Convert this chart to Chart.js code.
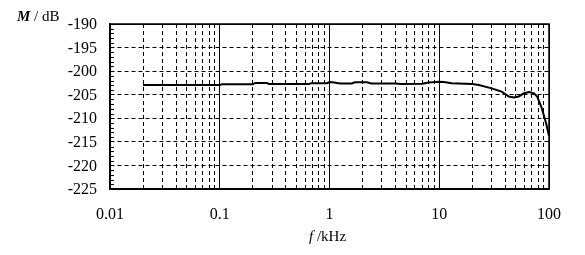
<!DOCTYPE html>
<html>
<head>
<meta charset="utf-8">
<script src="https://cdn.jsdelivr.net/npm/chart.js@4/dist/chart.umd.min.js"></script>
<style>
  html, body { margin: 0; padding: 0; background: #fff; }
  #wrap { width: 585px; height: 255px; }
</style>
</head>
<body>
<div id="wrap"><canvas id="chart"></canvas></div>
<script>
// frequency in kHz, magnitude in dB
const freq = [0.02, 0.1, 0.105, 0.2, 0.21, 0.27, 0.28, 0.65, 0.68, 0.95, 1.0, 1.1, 1.25, 1.6, 1.7, 2.2, 2.4, 4.0, 4.5, 7, 8, 10,
    11, 13, 20, 23, 30, 37, 43, 48, 53, 59, 66, 73, 78, 85, 94, 100];
const mag = [-202.95, -202.95, -202.8, -202.8, -202.5, -202.5, -202.75, -202.75, -202.55, -202.55, -202.3, -202.4, -202.6, -202.6,
    -202.35, -202.35, -202.6, -202.6, -202.75, -202.65, -202.4, -202.25,
    -202.3, -202.55, -202.75, -202.95, -203.65, -204.35, -205.4, -205.6, -205.4, -204.7, -204.45, -204.7, -205.4, -207.5, -211.0, -213.7];

const xDecades = [0.01, 0.1, 1, 10, 100];
const xTickLabels = ["0.01", "0.1", "1", "10", "100"];
const yTicks = [-190, -195, -200, -205, -210, -215, -220, -225];

const FONT = "'Liberation Serif', 'Times New Roman', serif";

// extra bits: inner minor ticks on the y axis, the frame and the axis titles
const extras = {
    id: "extras",
    afterDraw(chart) {
        const c = chart.ctx;
        const a = chart.chartArea;
        const y = chart.scales.y;
        c.save();
        c.strokeStyle = "#000";
        c.lineWidth = 1;
        c.beginPath();
        for (let v = -225; v <= -190; v++) {
            if (v % 5 === 0) continue;
            const py = Math.round(y.getPixelForValue(v)) + 0.5;
            c.moveTo(a.left, py);
            c.lineTo(a.left + 4, py);
        }
        c.stroke();
        c.lineWidth = 1.5;
        c.strokeRect(a.left, a.top, a.right - a.left, a.bottom - a.top);

        c.fillStyle = "#000";
        c.textBaseline = "middle";
        c.textAlign = "left";
        c.font = "italic bold 15px " + FONT;
        c.fillText("M", 17, 17);
        let w = c.measureText("M").width;
        c.font = "15px " + FONT;
        c.fillText(" / dB", 17 + w, 17);

        const cx = (a.left + a.right) / 2 - 2;
        c.font = "italic 15px " + FONT;
        const fw = c.measureText("f").width;
        c.font = "15px " + FONT;
        const rest = " /kHz";
        const rw = c.measureText(rest).width;
        const sx = cx - (fw + rw) / 2;
        c.font = "italic 15px " + FONT;
        c.fillText("f", sx, 237);
        c.font = "15px " + FONT;
        c.fillText(rest, sx + fw, 237);
        c.restore();
    }
};

new Chart(document.getElementById("chart"), {
    type: "line",
    data: {
        datasets: [{
            data: freq.map((f, i) => ({ x: f, y: mag[i] })),
            borderColor: "#000",
            borderWidth: 2,
            pointRadius: 0,
            tension: 0,
            fill: false
        }]
    },
    options: {
        responsive: true,
        maintainAspectRatio: false,
        animation: false,
        layout: { padding: { left: 0, right: 36, top: 24, bottom: 0 } },
        plugins: {
            legend: { display: false },
            tooltip: { enabled: false }
        },
        scales: {
            x: {
                type: "logarithmic",
                min: 0.01,
                max: 100,
                afterBuildTicks: (scale) => {
                    const ticks = [];
                    xDecades.forEach((d, i) => {
                        ticks.push({ value: d, label: xTickLabels[i] });
                        if (i < xDecades.length - 1) {
                            for (let k = 2; k <= 9; k++) ticks.push({ value: d * k });
                        }
                    });
                    scale.ticks = ticks;
                },
                afterFit: (scale) => { scale.height = 66; },
                ticks: {
                    autoSkip: false,
                    maxRotation: 0,
                    padding: 16,
                    color: "#000",
                    font: { family: FONT, size: 16 },
                    callback: function (value) {
                        const i = xDecades.findIndex(d => Math.abs(d - value) < d * 1e-6);
                        return i >= 0 ? xTickLabels[i] : "";
                    }
                },
                grid: {
                    color: "#000",
                    lineWidth: 1,
                    drawTicks: false
                },
                border: {
                    color: "#000",
                    width: 1.5,
                    dash: (ctx) => {
                        if (!ctx.tick) return [];
                        const v = ctx.tick.value;
                        return xDecades.some(d => Math.abs(d - v) < d * 1e-6) ? [] : [4, 3];
                    }
                }
            },
            y: {
                min: -225,
                max: -190,
                afterBuildTicks: (scale) => {
                    scale.ticks = yTicks.map(v => ({ value: v }));
                },
                afterFit: (scale) => { scale.width = 110; },
                ticks: {
                    padding: 13,
                    labelOffset: 1,
                    color: "#000",
                    font: { family: FONT, size: 16 }
                },
                grid: {
                    color: "#000",
                    lineWidth: 1,
                    drawTicks: false
                },
                border: {
                    color: "#000",
                    width: 1.5,
                    dash: (ctx) => {
                        if (!ctx.tick) return [];
                        return (ctx.tick.value === -190 || ctx.tick.value === -225) ? [] : [4, 3];
                    }
                }
            }
        }
    },
    plugins: [extras]
});
</script>
</body>
</html>
